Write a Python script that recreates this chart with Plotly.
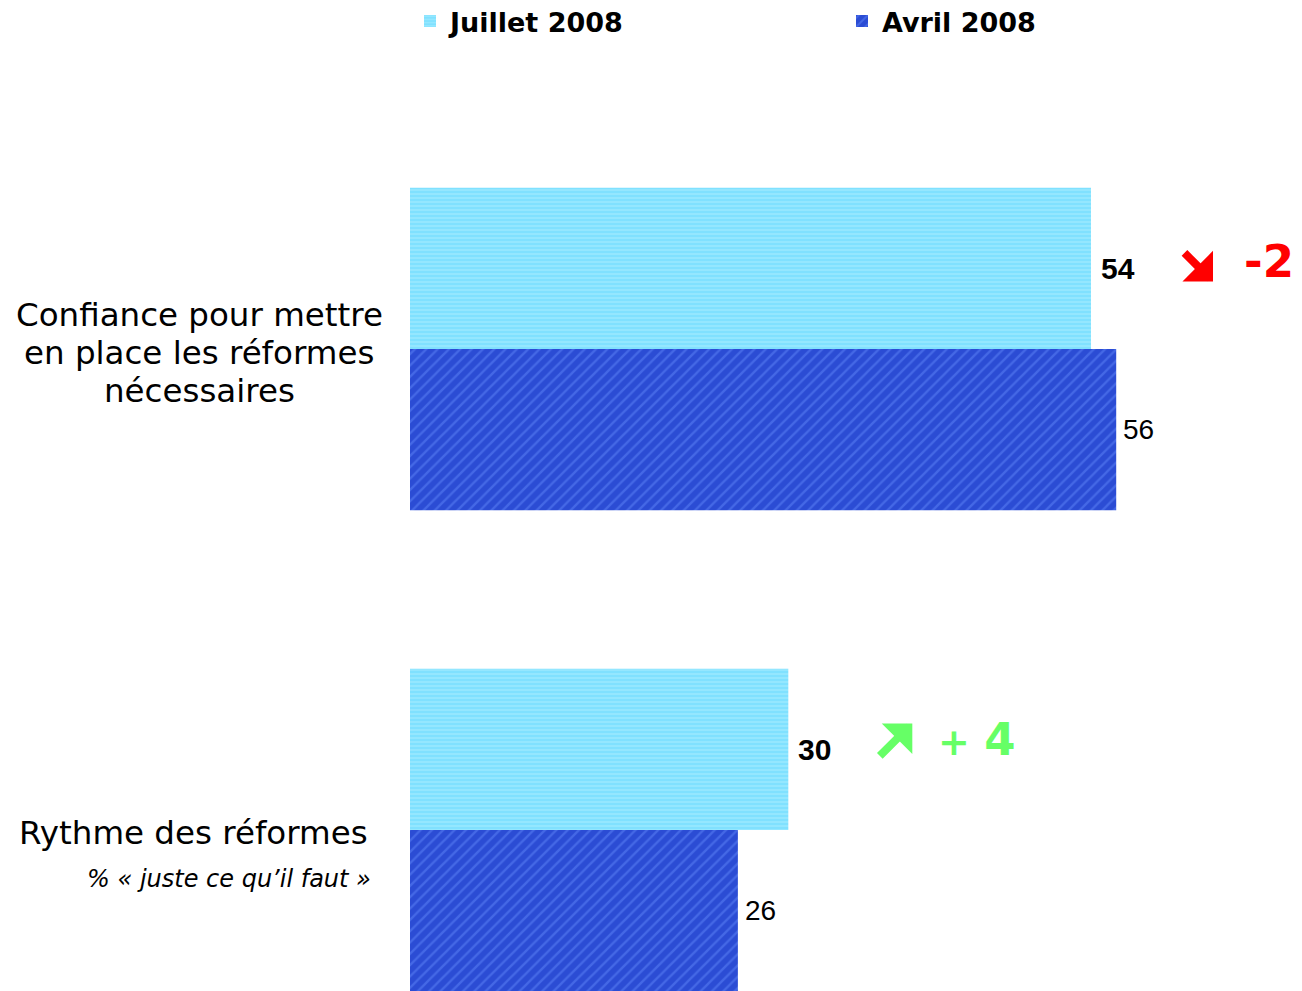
import plotly.graph_objects as go

# ---- data ----
categories = ["Confiance pour mettre en place les réformes nécessaires", "Rythme des réformes"]
cat_pos = [0, 1]
juillet_2008 = [54, 30]
avril_2008 = [56, 26]
delta_signs = ["-", "+"]
delta_values = ["2", "4"]
delta_colors = ["#FF0000", "#66FF66"]
series_names = ["Juillet 2008", "Avril 2008"]

LABEL_FONT = "DejaVu Sans, Verdana, sans-serif"
NUM_FONT = "Liberation Sans, Arial, sans-serif"

fig = go.Figure()
fig.add_trace(go.Bar(
    name=series_names[0], y=cat_pos, x=juillet_2008, orientation="h",
    marker=dict(color="#84E2FF", line=dict(width=0),
                pattern=dict(shape="-", fgcolor="#A8EEFF", bgcolor="#80E1FF",
                             size=4, solidity=0.25, fillmode="replace")),
    hoverinfo="skip",
))
fig.add_trace(go.Bar(
    name=series_names[1], y=cat_pos, x=avril_2008, orientation="h",
    marker=dict(color="#2C4ED6", line=dict(width=0),
                pattern=dict(shape="/", fgcolor="#4468E6", bgcolor="#2B4CD4",
                             size=8, solidity=0.3, fillmode="replace")),
    hoverinfo="skip",
))

half = 0.1675  # half of a bar's width in category units (bargap 0.33, 2 bars)
# arrow styling per row: tail offset (ax, ay) and head position shift
arrow_tail = [(-30, -30), (-34, 34)]
arrow_shift = [(122, -13), (124, 26)]
delta_shift = [(178, 7), (188, 10)]
ann = []
for i, c in enumerate(cat_pos):
    # values
    ann.append(dict(x=juillet_2008[i], y=c - half, xref="x", yref="y", text=f"<b>{juillet_2008[i]}</b>",
                    showarrow=False, xanchor="left", xshift=8,
                    font=dict(family=NUM_FONT, size=30, color="black")))
    ann.append(dict(x=avril_2008[i], y=c + half, xref="x", yref="y", text=f"{avril_2008[i]}",
                    showarrow=False, xanchor="left", xshift=5,
                    font=dict(family=NUM_FONT, size=28, color="black")))
    # evolution arrow
    ann.append(dict(x=juillet_2008[i], y=c - half, xref="x", yref="y", text="",
                    showarrow=True, arrowhead=1, arrowsize=0.9, arrowwidth=8,
                    arrowcolor=delta_colors[i], ax=arrow_tail[i][0], ay=arrow_tail[i][1],
                    standoff=0, xshift=arrow_shift[i][0], yshift=arrow_shift[i][1]))
    # delta
    ann.append(dict(x=juillet_2008[i], y=c - half, xref="x", yref="y",
                    text=(f"<span style='font-size:38px'><b>{delta_signs[i]}</b></span> <b>{delta_values[i]}</b>"
                          if delta_signs[i] == "+" else f"<b>{delta_signs[i]}{delta_values[i]}</b>"),
                    showarrow=False, xanchor="center", xshift=delta_shift[i][0], yshift=delta_shift[i][1],
                    font=dict(family=LABEL_FONT, size=45, color=delta_colors[i])))

# category labels (left side)
cat1_lines = ["Confiance pour mettre", "en place les réformes", "nécessaires"]
for k, line in enumerate(cat1_lines):
    ann.append(dict(x=-0.239, y=0, xref="paper", yref="y", text=line, showarrow=False,
                    xanchor="center", yshift=34 - 38 * k,
                    font=dict(family=LABEL_FONT, size=32.5, color="black")))
ann.append(dict(x=-0.2458, y=1, xref="paper", yref="y", text="Rythme des réformes", showarrow=False,
                xanchor="center", yshift=-3,
                font=dict(family=LABEL_FONT, size=32.5, color="black")))
ann.append(dict(x=-0.0425, y=1, xref="paper", yref="y", text="<i>% « juste ce qu’il faut »</i>",
                showarrow=False, xanchor="right", yshift=-49,
                font=dict(family=LABEL_FONT, size=24, color="black")))

# page has an 8px body margin: figure is 1294x983 so it fills 1302x991
fig.update_layout(
    width=1294, height=983,
    margin=dict(l=402, r=10, t=52, b=0, autoexpand=False),
    paper_bgcolor="white", plot_bgcolor="white",
    barmode="group", bargap=0.33, bargroupgap=0,
    xaxis=dict(range=[0, 69.94], visible=False, fixedrange=True),
    yaxis=dict(range=[1.3347, -0.6008], visible=False, fixedrange=True),
    showlegend=True,
    legend=dict(orientation="h", x=0.0, xref="paper", xanchor="left",
                y=1.0677, yref="paper", yanchor="top",
                entrywidth=387, entrywidthmode="pixels",
                font=dict(family=LABEL_FONT, size=27, color="black", weight="bold"),
                itemsizing="constant", traceorder="normal"),
    annotations=ann,
)

fig.write_html("out.html")
